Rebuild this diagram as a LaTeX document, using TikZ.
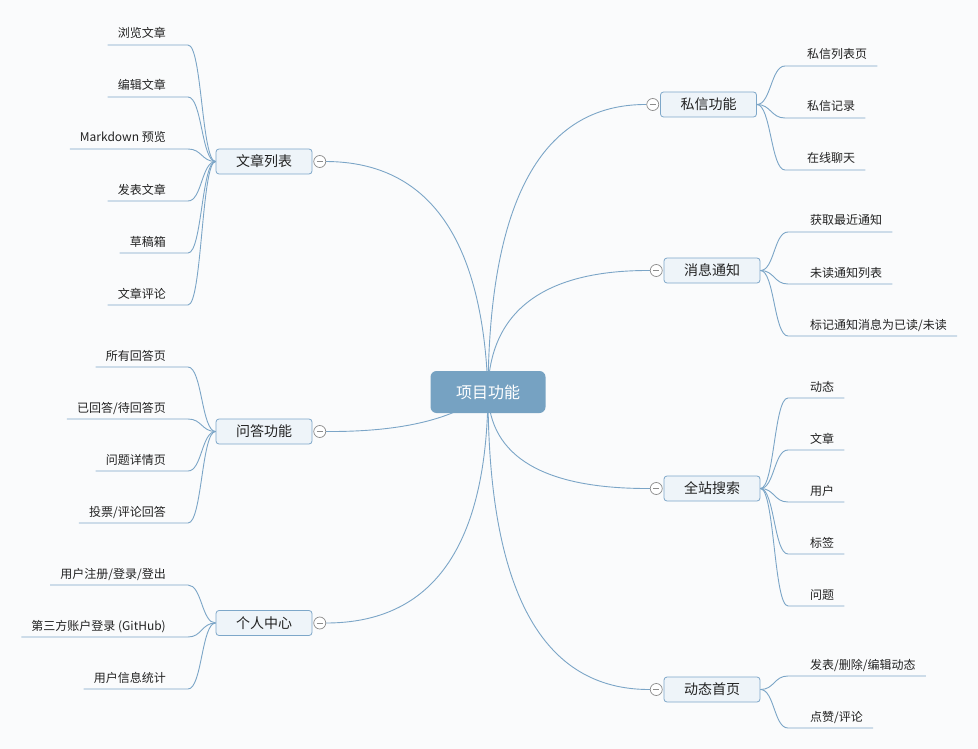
\documentclass[tikz,border=0pt]{standalone}
\usepackage{fontspec}
\setmainfont{Noto Sans CJK SC}
\usetikzlibrary{positioning, backgrounds}
\definecolor{bgpaper}{HTML}{FAFBFC}
\definecolor{rootblue}{HTML}{76A2C2}
\definecolor{linkblue}{HTML}{7BA5C7}
\definecolor{topicfill}{HTML}{EEF4F9}
\definecolor{topicedge}{HTML}{7DA7C9}
\definecolor{foldgray}{HTML}{8C8C8C}
\definecolor{textdark}{HTML}{222222}
\tikzset{
  % central topic
  root/.style={
    fill=rootblue, rounded corners=6pt,
    minimum width=115pt, minimum height=42pt,
    text=white, font=\fontsize{16}{18}\selectfont,
  },
  % main branches
  topic/.style={
    draw=topicedge, fill=topicfill, rounded corners=3pt,
    minimum width=96pt, minimum height=25pt, inner sep=2pt,
    line width=0.8pt, text=textdark, font=\fontsize{14}{16}\selectfont,
  },
  % collapse marker
  fold/.style={
    circle, draw=foldgray, fill=white, minimum size=12pt,
    inner sep=0pt, line width=0.7pt,
    path picture={\draw[foldgray, line width=0.7pt]
      ([xshift=3pt]path picture bounding box.west) --
      ([xshift=-3pt]path picture bounding box.east);},
  },
  % leaves, underlined
  leaf/.style={
    inner xsep=10pt, inner ysep=4.8pt, text height=9pt, text depth=2pt,
    text=textdark, font=\fontsize{12}{14}\selectfont,
  },
  leafR/.style={leaf, anchor=south west, execute at begin node=\hspace*{12pt}},
  leafL/.style={leaf, anchor=south east, execute at end node=\hspace*{12pt}},
  % connectors
  link/.style={draw=linkblue, line width=0.9pt},
}
\begin{document}
\begin{tikzpicture}[x=1pt, y=-1pt]
  \useasboundingbox (0,0) rectangle (978,749);

  \node[root] (root) at (488,392) {项目功能};

  % right side
  \node[topic] (sx) at (708.5,104.5) {私信功能};
  \node[fold, left=1pt of sx] (sxf) {};
  \node[leafR] (sx1) at (785,66) {私信列表页};
  \node[leafR] (sx2) at (785,118) {私信记录};
  \node[leafR] (sx3) at (785,170) {在线聊天};

  \node[topic] (xx) at (712,270.5) {消息通知};
  \node[fold, left=1pt of xx] (xxf) {};
  \node[leafR] (xx1) at (788,232) {获取最近通知};
  \node[leafR] (xx2) at (788,284) {未读通知列表};
  \node[leafR] (xx3) at (788,336) {标记通知消息为已读/未读};

  \node[topic] (ss) at (712,488.5) {全站搜索};
  \node[fold, left=1pt of ss] (ssf) {};
  \node[leafR] (ss1) at (788,398) {动态};
  \node[leafR] (ss2) at (788,450) {文章};
  \node[leafR] (ss3) at (788,502) {用户};
  \node[leafR] (ss4) at (788,554) {标签};
  \node[leafR] (ss5) at (788,606) {问题};

  \node[topic] (dt) at (712,689.5) {动态首页};
  \node[fold, left=1pt of dt] (dtf) {};
  \node[leafR] (dt1) at (788,676) {发表/删除/编辑动态};
  \node[leafR] (dt2) at (788,728) {点赞/评论};

  % left side
  \node[topic] (wz) at (264,161.5) {文章列表};
  \node[fold, right=1pt of wz] (wzf) {};
  \node[leafL] (wz1) at (188,45) {浏览文章};
  \node[leafL] (wz2) at (188,97) {编辑文章};
  \node[leafL] (wz3) at (188,149) {Markdown 预览};
  \node[leafL] (wz4) at (188,201) {发表文章};
  \node[leafL] (wz5) at (188,253) {草稿箱};
  \node[leafL] (wz6) at (188,305) {文章评论};

  \node[topic] (wd) at (264,431.5) {问答功能};
  \node[fold, right=1pt of wd] (wdf) {};
  \node[leafL] (wd1) at (188,367) {所有回答页};
  \node[leafL] (wd2) at (188,419) {已回答/待回答页};
  \node[leafL] (wd3) at (188,471) {问题详情页};
  \node[leafL] (wd4) at (188,523) {投票/评论回答};

  \node[topic] (gr) at (264,623) {个人中心};
  \node[fold, right=1pt of gr] (grf) {};
  \node[leafL] (gr1) at (188,585) {用户注册/登录/登出};
  \node[leafL] (gr2) at (188,637) {第三方账户登录 (GitHub)};
  \node[leafL] (gr3) at (188,689) {用户信息统计};

  % main branches behind the root
  \begin{scope}[on background layer]
    \fill[bgpaper] (0,0) rectangle (978,749);
    \draw[link] (root.center) .. controls (489,200) and (542,104) .. (sxf.west);
    \draw[link] (root.center) .. controls (489,311) and (544,270) .. (xxf.west);
    \draw[link] (root.center) .. controls (489,457) and (544,489) .. (ssf.west);
    \draw[link] (root.center) .. controls (488,591) and (542,690) .. (dtf.west);
    \draw[link] (root.center) .. controls (483,239) and (429,162) .. (wzf.east);
    \draw[link] (root.center) .. controls (456,419) and (402,432) .. (wdf.east);
    \draw[link] (root.center) .. controls (487,546) and (433,623) .. (grf.east);
  \end{scope}

  % leaf connectors
  \foreach \n in {sx1,sx2,sx3}
    \draw[link] (sx.east) .. controls +(14,0) and +(-14,0) .. (\n.south west) -- (\n.south east);
  \foreach \n in {xx1,xx2,xx3}
    \draw[link] (xx.east) .. controls +(14,0) and +(-14,0) .. (\n.south west) -- (\n.south east);
  \foreach \n in {ss1,ss2,ss3,ss4,ss5}
    \draw[link] (ss.east) .. controls +(14,0) and +(-14,0) .. (\n.south west) -- (\n.south east);
  \foreach \n in {dt1,dt2}
    \draw[link] (dt.east) .. controls +(14,0) and +(-14,0) .. (\n.south west) -- (\n.south east);
  \foreach \n in {wz1,wz2,wz3,wz4,wz5,wz6}
    \draw[link] (wz.west) .. controls +(-14,0) and +(14,0) .. (\n.south east) -- (\n.south west);
  \foreach \n in {wd1,wd2,wd3,wd4}
    \draw[link] (wd.west) .. controls +(-14,0) and +(14,0) .. (\n.south east) -- (\n.south west);
  \foreach \n in {gr1,gr2,gr3}
    \draw[link] (gr.west) .. controls +(-14,0) and +(14,0) .. (\n.south east) -- (\n.south west);
\end{tikzpicture}
\end{document}
